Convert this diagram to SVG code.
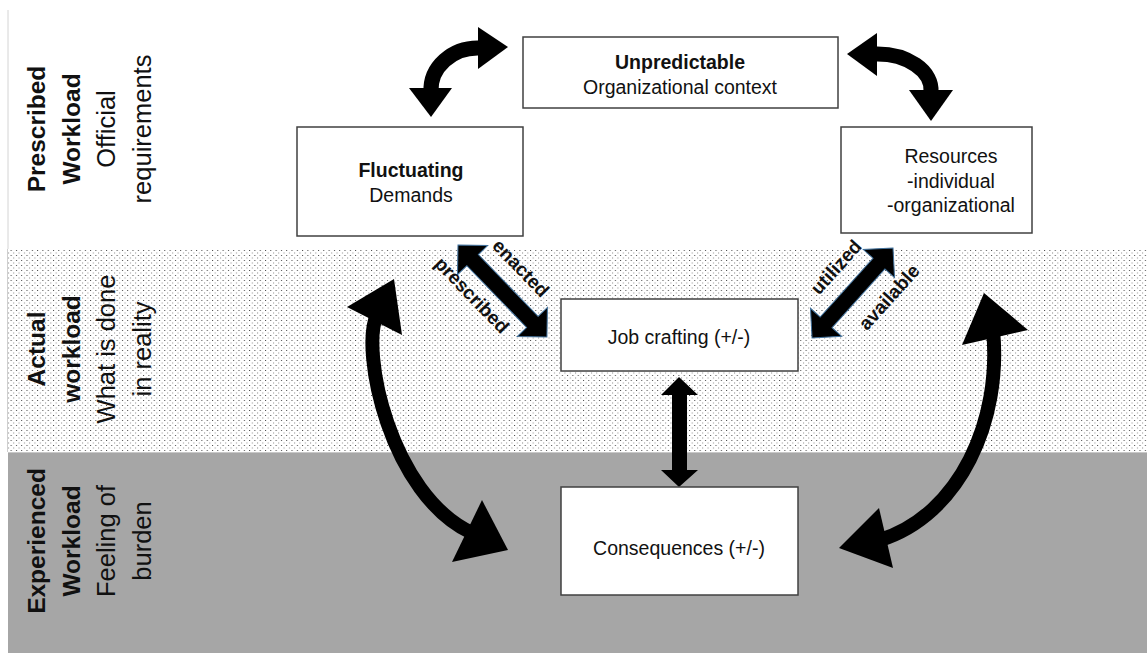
<svg xmlns="http://www.w3.org/2000/svg" width="1147" height="653" viewBox="0 0 1147 653">
<defs>
<pattern id="dots" width="5.3" height="5" patternUnits="userSpaceOnUse">
<rect width="5.3" height="5" fill="#ffffff"/>
<rect x="0" y="0" width="1" height="1" fill="#4a4a4a"/>
<rect x="2.65" y="2.5" width="1" height="1" fill="#8a8a8a"/>
</pattern>
</defs>
<style>
.box{fill:#ffffff;stroke:#404040;stroke-width:1.5}
.t{font-family:"Liberation Sans",Arial,sans-serif;fill:#111;text-anchor:middle}
.b{font-weight:bold}
.side{font-size:24.5px}
.sider{font-size:25.5px}
.bt{font-size:19.5px}
.lab{font-size:19px;font-weight:bold}
.shaft{fill:none;stroke:#000;stroke-width:15}
.big{fill:none;stroke:#000;stroke-width:14}
.head{fill:#000}
.dbl{fill:#000;stroke:#41719c;stroke-width:1}
</style>
<rect width="1147" height="653" fill="#ffffff"/>
<g id="bands">
<line x1="8" y1="10" x2="8" y2="249" stroke="#d4d4d4" stroke-width="1"/>
<rect x="7" y="249" width="1141" height="203" fill="url(#dots)"/>
<line x1="7.5" y1="249" x2="7.5" y2="452" stroke="#cfcfcf" stroke-width="1"/>
<rect x="8" y="452" width="1140" height="202" fill="#a6a6a6"/>
<line x1="8" y1="452.5" x2="1147" y2="452.5" stroke="#c8c8c8" stroke-width="1"/>
</g>
<g id="label-prescribed" transform="translate(0,129) rotate(-90)">
<text class="t side b" x="0" y="45">Prescribed</text>
<text class="t side b" x="0" y="80">Workload</text>
<text class="t sider" x="0" y="115">Official</text>
<text class="t sider" x="0" y="151">requirements</text>
</g>
<g id="label-actual" transform="translate(0,349) rotate(-90)">
<text class="t side b" x="0" y="45">Actual</text>
<text class="t side b" x="0" y="80">workload</text>
<text class="t sider" x="0" y="115">What is done</text>
<text class="t sider" x="0" y="151">in reality</text>
</g>
<g id="label-experienced" transform="translate(0,541) rotate(-90)">
<text class="t side b" x="0" y="45">Experienced</text>
<text class="t side b" x="0" y="80">Workload</text>
<text class="t sider" x="0" y="115">Feeling of</text>
<text class="t sider" x="0" y="151">burden</text>
</g>
<g id="connectors">
<path class="shaft" d="M431 92 A47 42 0 0 1 480 48"/>
<polygon class="head" points="478,27 508,47 478,69"/>
<polygon class="head" points="409,88 452,88 431,117"/>
<path class="shaft" d="M875 54 A54 36 0 0 1 931 92"/>
<polygon class="head" points="877,33 847,54 877,76"/>
<polygon class="head" points="909,90 953,90 931,121"/>
<polygon class="dbl" transform="translate(458,245) rotate(46)" points="0,0 21,-21 21,-8 107,-8 107,-21 128,0 107,21 107,8 21,8 21,21"/>
<polygon class="dbl" transform="translate(893,248) rotate(132)" points="0,0 21,-21 21,-8 100,-8 100,-21 121,0 100,21 100,8 21,8 21,21"/>
<polygon class="head" points="679,377 698,395 687,395 687,470 698,470 679,487 661,470 672,470 672,395 661,395"/>
<path class="big" d="M377 315 C 360 350, 390 495, 472 533"/>
<polygon class="head" points="394,279 347,307 402,335"/>
<polygon class="head" points="508,550 482,500 452,562"/>
<path class="big" d="M993 330 C 1002 420, 960 515, 880 540"/>
<polygon class="head" points="984,293 1028,330 962,345"/>
<polygon class="head" points="839,548 879,508 893,568"/>
<text class="t lab" transform="translate(521,268) rotate(46)" dy="0.35em">enacted</text>
<text class="t lab" transform="translate(472,295) rotate(46)" dy="0.35em">prescribed</text>
<text class="t lab" transform="translate(836,267) rotate(-48)" dy="0.35em">utilized</text>
<text class="t lab" transform="translate(889,297) rotate(-48)" dy="0.35em">available</text>
</g>
<g id="node-unpredictable">
<rect class="box" x="523" y="37" width="315" height="71"/>
<text class="t bt b" x="680" y="69">Unpredictable</text>
<text class="t bt" x="680" y="94">Organizational context</text>
</g>
<g id="node-fluctuating">
<rect class="box" x="297" y="127" width="226" height="109"/>
<text class="t bt b" x="411" y="177">Fluctuating</text>
<text class="t bt" x="411" y="202">Demands</text>
</g>
<g id="node-resources">
<rect class="box" x="841" y="127" width="191" height="106"/>
<text class="t bt" x="951" y="163">Resources</text>
<text class="t bt" x="951" y="188">-individual</text>
<text class="t bt" x="951" y="212">-organizational</text>
</g>
<g id="node-jobcrafting">
<rect class="box" x="561" y="299" width="237" height="72"/>
<text class="t bt" x="679" y="344">Job crafting (+/-)</text>
</g>
<g id="node-consequences">
<rect class="box" x="561" y="487" width="237" height="108"/>
<text class="t bt" x="679" y="555">Consequences (+/-)</text>
</g>
</svg>
